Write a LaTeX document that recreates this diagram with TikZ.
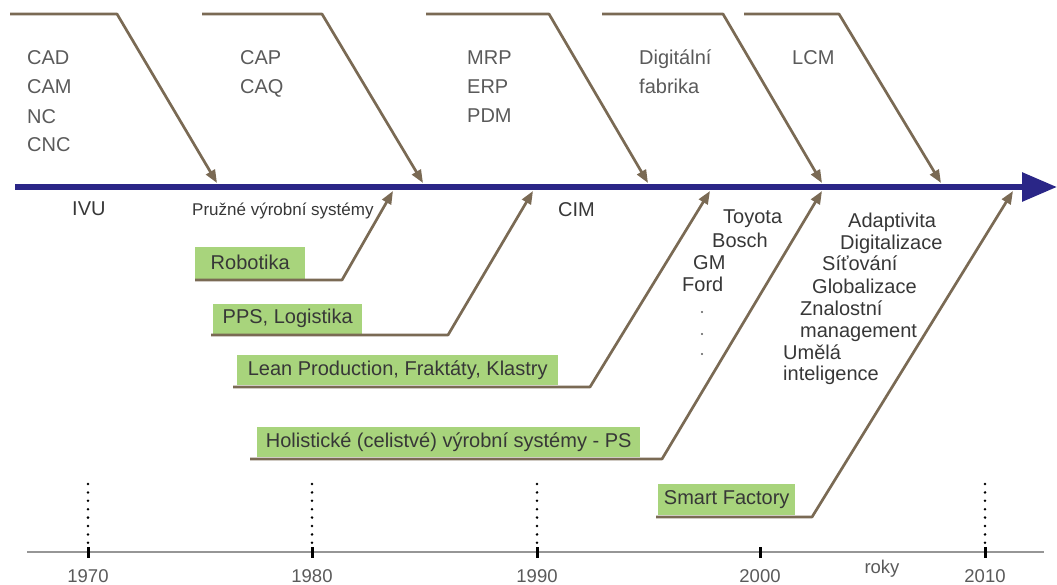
\documentclass[tikz,border=0pt]{standalone}
\usepackage{fontspec}
\setmainfont{Liberation Sans}
\usetikzlibrary{arrows.meta}
\definecolor{spinec}{RGB}{42,38,135}
\definecolor{bonec}{RGB}{122,106,84}
\definecolor{tagc}{RGB}{168,212,124}
\definecolor{ink}{RGB}{55,55,55}
\definecolor{softink}{RGB}{90,90,90}
\definecolor{axisc}{RGB}{150,150,150}
\begin{document}
\begin{tikzpicture}[x=1pt,y=-1pt,
  txt/.style={font=\fontsize{20}{23}\selectfont, text=ink, inner sep=0pt, anchor=base west},
  toptxt/.style={txt, text=softink},
  tagbox/.style={fill=tagc, inner sep=0pt, font=\fontsize{20}{23}\selectfont, text=ink, anchor=south west},
  boneline/.style={draw=bonec, line width=2.7pt, line join=round},
  bonearrow/.style={boneline, -{Triangle[length=13pt,width=10pt]}},
  yearlbl/.style={font=\fontsize{18.5}{21}\selectfont, text=softink, inner sep=0pt},
  tickmark/.style={line width=3pt, draw=black},
  guide/.style={line width=2.8pt, line cap=round, dash pattern=on 0pt off 8.4pt, draw=black}
]
\useasboundingbox (0,0) rectangle (1057,585);

% main time arrow
\coordinate (s0) at (15,187);
\coordinate (s1) at (1057,187);
\draw[line width=6pt, spinec, -{Triangle[length=35pt,width=28pt]}] (s0) -- (s1);

% upper bones
\foreach \n/\a/\b/\c in {1/10/117/217, 2/202/322/423, 3/426/549/648, 4/602/723/822, 5/744/839/941}{
  \coordinate (u\n a) at (\a,14);
  \coordinate (u\n b) at (\b,14);
  \coordinate (u\n c) at (\c,183);
  \draw[bonearrow] (u\n a) -- (u\n b) -- (u\n c);
}

% upper labels
\foreach \name/\x/\y/\t in {cad/27/65/CAD, cam/27/94/CAM, nc/27/124/NC, cnc/27/152/CNC,
    cap/240/65/CAP, caq/240/94/CAQ,
    mrp/467/65/MRP, erp/467/94/ERP, pdm/467/123/PDM,
    dig/639/65/Digitální, fab/639/94/fabrika,
    lcm/792/65/LCM}{
  \node[toptxt] (\name) at (\x,\y) {\t};
}

% labels under the arrow
\node[txt] (ivu) at (72,216) {IVU};
\node[txt, font=\fontsize{17}{20}\selectfont] (pvs) at (192,216) {Pružné výrobní systémy};
\node[txt] (cim) at (558,217) {CIM};

\foreach \name/\x/\y/\t in {toy/723/224/Toyota, bos/712/248/Bosch, gm/693/270/GM, ford/682/291/Ford,
    ada/848/228/Adaptivita, digi/840/250/Digitalizace, sit/822/271/Síťování,
    glo/812/294/Globalizace, zna/800/315/Znalostní, man/800/337/management,
    ume/783/359/Umělá, int/783/380/inteligence}{
  \node[txt] (\name) at (\x,\y) {\t};
}
\foreach \y in {312,334,354}{
  \fill[softink] (702,\y) circle (1.1);
}

% lower bones with green tags
\node[tagbox, minimum width=110, minimum height=32] (rob) at (195,279) {Robotika};
\node[tagbox, minimum width=149, minimum height=30] (pps) at (213,334) {PPS, Logistika};
\node[tagbox, minimum width=321, minimum height=30] (lean) at (237,385) {Lean Production, Fraktáty, Klastry};
\node[tagbox, minimum width=383, minimum height=30] (hol) at (257,457) {Holistické (celistvé) výrobní systémy - PS};
\node[tagbox, minimum width=137, minimum height=31] (smart) at (658,515) {Smart Factory};

\foreach \n/\a/\b/\y/\c in {rob/195/342/280/393, pps/211/448/335/533, lean/233/590/387/710,
    hol/250/662/459/822, smart/656/812/517/1013}{
  \coordinate (\n a) at (\a,\y);
  \coordinate (\n b) at (\b,\y);
  \coordinate (\n c) at (\c,191);
  \draw[bonearrow] (\n a) -- (\n b) -- (\n c);
}

% year axis
\coordinate (ax0) at (27,552);
\coordinate (ax1) at (1044,552);
\draw[axisc, line width=2pt] (ax0) -- (ax1);
\foreach \yr/\x in {1970/88, 1980/312, 1990/537, 2000/760, 2010/985}{
  \coordinate (k\yr a) at (\x,547);
  \coordinate (k\yr b) at (\x,558);
  \draw[tickmark] (k\yr a) -- (k\yr b);
  \node[yearlbl] (y\yr) at (\x,576.5) {\yr};
}
\foreach \yr/\x in {1970/88, 1980/312, 1990/537, 2010/985}{
  \coordinate (g\yr a) at (\x,484);
  \coordinate (g\yr b) at (\x,543);
  \draw[guide] (g\yr a) -- (g\yr b);
}
\node[yearlbl] (roky) at (882,569) {roky};
\end{tikzpicture}
\end{document}
